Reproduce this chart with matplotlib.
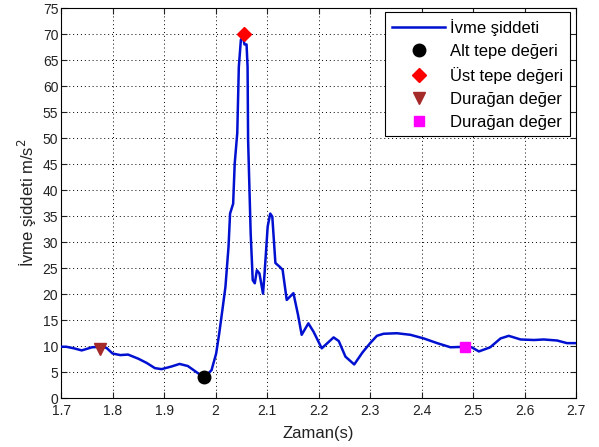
import matplotlib
matplotlib.use("Agg")
import matplotlib.pyplot as plt

plt.rcParams.update({
    "font.family": ["Liberation Sans", "DejaVu Sans"],
    "font.size": 10,
})

# traced signal
time_s = [1.700, 1.710, 1.725, 1.740, 1.760, 1.775, 1.788, 1.800, 1.815, 1.830,
          1.850, 1.866, 1.882, 1.895, 1.914, 1.930, 1.946, 1.966, 1.978, 1.992,
          2.001, 2.007, 2.013, 2.019, 2.025, 2.028, 2.034, 2.037, 2.042, 2.045,
          2.049, 2.053, 2.056, 2.060, 2.062, 2.063, 2.068, 2.072, 2.076, 2.080,
          2.085, 2.092, 2.095, 2.101, 2.106, 2.110, 2.116, 2.124, 2.130, 2.138,
          2.151, 2.160, 2.167, 2.180, 2.190, 2.206, 2.229, 2.239, 2.252, 2.269,
          2.285, 2.300, 2.313, 2.326, 2.352, 2.378, 2.404, 2.430, 2.456, 2.484,
          2.497, 2.511, 2.533, 2.553, 2.569, 2.592, 2.618, 2.637, 2.663, 2.682,
          2.700]
accel = [9.9, 9.9, 9.6, 9.2, 9.8, 9.9, 9.7, 8.6, 8.3, 8.4,
         7.6, 6.8, 5.8, 5.6, 6.1, 6.6, 6.2, 4.8, 4.0, 5.4,
         8.6, 12.5, 16.9, 21.4, 29.1, 35.5, 37.4, 45.1, 51.0, 63.7,
         68.9, 69.5, 68.0, 68.0, 63.7, 49.7, 31.7, 22.7, 22.1, 24.6,
         24.0, 20.1, 24.0, 33.0, 35.5, 34.9, 26.0, 25.3, 24.7, 18.9,
         20.2, 16.0, 12.2, 14.4, 12.8, 9.6, 11.7, 11.0, 8.0, 6.5,
         8.8, 10.6, 12.0, 12.4, 12.5, 12.2, 11.5, 10.6, 9.8, 9.9,
         9.8, 9.0, 9.8, 11.5, 12.0, 11.3, 11.2, 11.3, 11.1, 10.6,
         10.6]

min_pt = (1.978, 4.0)
max_pt = (2.056, 70.0)
steady1 = (1.775, 9.5)
steady2 = (2.484, 9.9)

xticks = [1.7, 1.8, 1.9, 2.0, 2.1, 2.2, 2.3, 2.4, 2.5, 2.6, 2.7]
xticklabels = ["1.7", "1.8", "1.9", "2", "2.1", "2.2", "2.3", "2.4", "2.5", "2.6", "2.7"]
yticks = list(range(0, 80, 5))

fig = plt.figure(figsize=(5.99, 4.47), dpi=100)
ax = fig.add_axes([0.102, 0.109, 0.860, 0.873])

ax.plot(time_s, accel, color="#0010d0", linewidth=1.8, label="İvme şiddeti", zorder=3)
ax.plot(*min_pt, "o", color="black", markersize=9, linestyle="none", label="Alt tepe değeri", zorder=4)
ax.plot(*max_pt, "D", color="red", markersize=7, linestyle="none", label="Üst tepe değeri", zorder=4)
ax.plot(*steady1, "v", color="#a52a2a", markersize=9, linestyle="none", label="Durağan değer", zorder=4)
ax.plot(*steady2, "s", color="magenta", markersize=7, linestyle="none", label="Durağan değer", zorder=4)

ax.set_xlim(1.7, 2.7)
ax.set_ylim(0, 75)
ax.set_xticks(xticks)
ax.set_xticklabels(xticklabels)
ax.set_yticks(yticks)
ax.tick_params(direction="in", top=True, right=True, length=4, colors="#222222", labelsize=10)
ax.tick_params(axis="x", pad=4)
ax.tick_params(axis="y", pad=2)
ax.grid(True, linestyle=(0, (1, 3)), color="black", linewidth=0.7)
ax.set_axisbelow(True)
for sp in ax.spines.values():
    sp.set_linewidth(0.8)

ax.set_xlabel("Zaman(s)", fontsize=12, color="#222222", labelpad=6)
ax.set_ylabel("İvme şiddeti m/s$^2$", fontsize=12, color="#222222", labelpad=3)

leg = ax.legend(loc="upper right", bbox_to_anchor=(0.988, 0.99), borderaxespad=0,
                fontsize=12, fancybox=False, edgecolor="black", framealpha=1,
                labelspacing=0.48, handlelength=3.2, handletextpad=0.3,
                borderpad=0.4)
leg.get_frame().set_linewidth(0.8)

fig.savefig("out.png", dpi=100)
